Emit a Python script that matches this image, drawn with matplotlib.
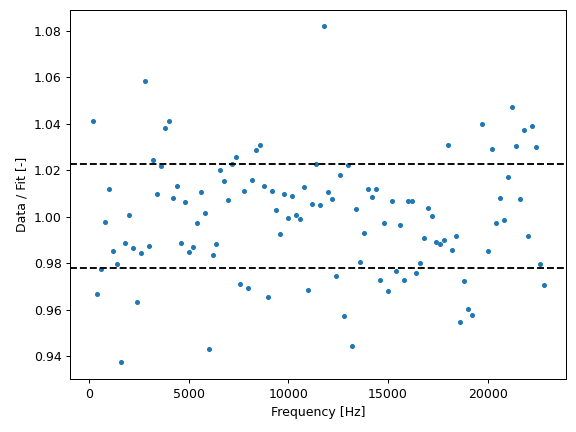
import matplotlib
matplotlib.use('Agg')
import matplotlib.pyplot as plt


# frequency bins (Hz) and measured data/fit ratio
freqs = [200 * k for k in range(1, 97)] + [19700] + [200 * k for k in range(100, 115)]

ratio = [
    1.0412, 0.9668, 0.9776, 0.9978, 1.0119, 0.9853, 0.9797, 0.9376, 0.9887, 1.0008,
    0.9866, 0.9634, 0.9844, 1.0584, 0.9874, 1.0244, 1.0098, 1.0218, 1.0382, 1.0412,
    1.0081, 1.0132, 0.9887, 1.0064, 0.9849, 0.9870, 0.9973, 1.0107, 1.0016, 0.9432,
    0.9836, 0.9883, 1.0201, 1.0154, 1.0072, 1.0227, 1.0257, 0.9711, 1.0111, 0.9694,
    1.0158, 1.0287, 1.0309, 1.0132, 0.9655, 1.0111, 1.0029, 0.9926, 1.0098, 0.9995,
    1.0089, 1.0008, 0.9990, 1.0128, 0.9685, 1.0055, 1.0227, 1.0051, 1.0820, 1.0107,
    1.0076, 0.9745, 1.0180, 0.9573, 1.0223, 0.9444, 1.0033, 0.9806, 0.9930, 1.0119,
    1.0085, 1.0119, 0.9728, 0.9973, 0.9681, 1.0068, 0.9767, 0.9965, 0.9728, 1.0068,
    1.0068, 0.9758, 0.9801, 0.9909, 1.0038, 1.0003, 0.9892, 0.9883, 0.9900, 1.0309,
    0.9857, 0.9917, 0.9548, 0.9724, 0.9604, 0.9578,
    1.0399,
    0.9853, 1.0291, 0.9973, 1.0081, 0.9986, 1.0171, 1.0472, 1.0304, 1.0076, 1.0373,
    0.9917, 1.0390, 1.0300, 0.9797, 0.9707,
]

upper = 1.0228
lower = 0.9780

fig = plt.figure(figsize=(6.4, 4.8), dpi=90)
fig.subplots_adjust(left=0.122, right=0.983, bottom=0.123, top=0.978)
axes = fig.add_subplot(111)

axes.plot(freqs, ratio, '.')
axes.axhline(upper, color='k', linestyle='--')
axes.axhline(lower, color='k', linestyle='--')

axes.set_xlabel('Frequency [Hz]')
axes.set_ylabel('Data / Fit [-]')

plt.savefig('out.png')
